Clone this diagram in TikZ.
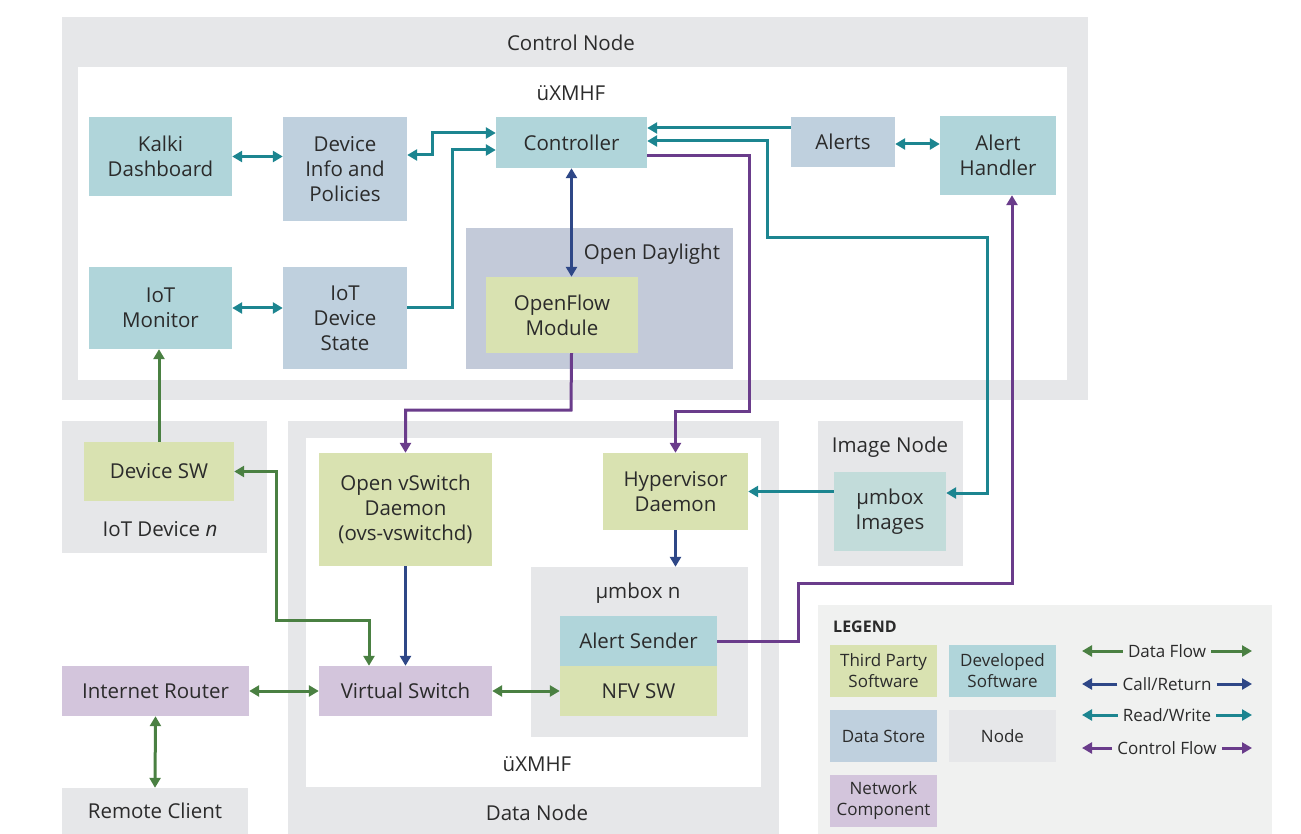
\documentclass[tikz,border=0pt]{standalone}
\usepackage{fontspec}
\setmainfont{Open Sans}
\usepackage{tikz}
\usetikzlibrary{arrows.meta,fit}
\definecolor{kkInk}{HTML}{2B2B2B}
\definecolor{kkNode}{HTML}{E6E7E9}
\definecolor{kkThird}{HTML}{D9E2B1}
\definecolor{kkDev}{HTML}{B0D5DA}
\definecolor{kkStore}{HTML}{BFD0DE}
\definecolor{kkNet}{HTML}{D3C5DC}
\definecolor{kkDaylight}{HTML}{C3CAD9}
\definecolor{kkImages}{HTML}{C2DCDA}
\definecolor{kkLegend}{HTML}{F0F1F0}
\definecolor{kkGreen}{HTML}{4A8042}
\definecolor{kkBlue}{HTML}{2E4787}
\definecolor{kkTeal}{HTML}{1C8590}
\definecolor{kkPurple}{HTML}{6A3C8B}
\tikzset{
  plain box/.style={inner sep=0pt,align=center,text=kkInk,font=\fontsize{20.5}{25}\selectfont},
  third box/.style={plain box,fill=kkThird},
  dev box/.style={plain box,fill=kkDev},
  store box/.style={plain box,fill=kkStore},
  net box/.style={plain box,fill=kkNet},
  holder/.style={fill=kkNode,inner sep=0pt},
  tag/.style={plain box},
  key box/.style={plain box,font=\fontsize{17}{21}\selectfont,minimum width=107,minimum height=52},
  key text/.style={inner sep=5pt,text=kkInk,font=\fontsize{17}{21}\selectfont},
  flow arrow/.style={line width=3pt},
  data arrow/.style={flow arrow,draw=kkGreen},
  call arrow/.style={flow arrow,draw=kkBlue},
  rw arrow/.style={flow arrow,draw=kkTeal},
  ctl arrow/.style={flow arrow,draw=kkPurple}
}
\begin{document}
\begin{tikzpicture}[x=1pt,y=-1pt,>={Triangle[length=10pt,width=11pt]}]
\useasboundingbox[fill=white] (0,0) rectangle (1301,834);
% nodes and enclosures
\node[holder,fit={(62,17)(1088,400)}] (ctrlnode) {};
\node[fill=white,inner sep=0pt,fit={(78,67)(1067,380)}] (ctrlxmhf) {};
\node[fill=kkDaylight,inner sep=0pt,fit={(466,228)(733,369)}] (daylight) {};
\node[holder,fit={(62,421)(267,553)}] (iotdev) {};
\node[holder,fit={(288,421)(779,834)}] (datanode) {};
\node[fill=white,inner sep=0pt,fit={(306,438)(761,787)}] (dataxmhf) {};
\node[holder,fit={(531,567)(748,737)}] (umbox) {};
\node[holder,fit={(818,421)(963,566)}] (imgnode) {};
\node[fill=kkLegend,inner sep=0pt,fit={(818,605)(1272,834)}] (legend) {};
\node[tag] at (571,43) {Control Node};
\node[tag] at (571,93) {üXMHF};
\node[tag] at (652,254) {Open Daylight};
\node[tag] at (160,529) {IoT Device \textit{n}};
\node[tag] at (537,813) {Data Node};
\node[tag] at (537,764) {üXMHF};
\node[tag] at (638,593) {µmbox n};
\node[tag] at (890,447) {Image Node};

% control node
\node[dev box,minimum width=143,minimum height=79] (kalki) at (160.5,156.5) {Kalki\\Dashboard};
\node[store box,minimum width=124,minimum height=104] (devinfo) at (345,169) {Device\\Info and\\Policies};
\node[dev box,minimum width=151,minimum height=51] (ctrl) at (571.5,142.5) {Controller};
\node[store box,minimum width=104,minimum height=50] (alerts) at (843,142) {Alerts};
\node[dev box,minimum width=116,minimum height=79] (handler) at (998,155.5) {Alert\\Handler};
\node[dev box,minimum width=143,minimum height=82] (iotmon) at (160.5,308) {IoT\\Monitor};
\node[store box,minimum width=124,minimum height=102] (state) at (345,318) {IoT\\Device\\State};
\node[third box,minimum width=152,minimum height=76] (openflow) at (562,315) {OpenFlow\\Module};

% devices, data node, image node
\node[third box,minimum width=150,minimum height=59] (devsw) at (159,471.5) {Device SW};
\node[third box,minimum width=173,minimum height=113] (ovs) at (405.5,509.5) {Open vSwitch\\Daemon\\(ovs-vswitchd)};
\node[third box,minimum width=145,minimum height=77] (hyper) at (675.5,491.5) {Hypervisor\\Daemon};
\node[dev box,minimum width=157,minimum height=50] (sender) at (638.5,641) {Alert Sender};
\node[third box,minimum width=157,minimum height=50] (nfv) at (638.5,691) {NFV SW};
\node[net box,minimum width=173,minimum height=50] (vswitch) at (405.5,691) {Virtual Switch};
\node[net box,minimum width=187,minimum height=50] (router) at (155.5,691) {Internet Router};
\node[plain box,fill=kkNode,minimum width=186,minimum height=46] (client) at (155,811) {Remote Client};
\node[plain box,fill=kkImages,minimum width=112,minimum height=79] (images) at (890,511.5) {µmbox\\Images};

% connectors
\draw[rw arrow,<->] (kalki.east) -- (kalki.east -| devinfo.west);
\draw[rw arrow,<->] ([yshift=14pt]devinfo.east) -| (432,133) -- ([yshift=9.5pt]ctrl.west);
\draw[rw arrow,->] (state.east |- iotmon) -| (452,150) -- ([yshift=-7.5pt]ctrl.west);
\draw[rw arrow,<->] (iotmon.east) -- (iotmon.east -| state.west);
\draw[rw arrow,->] ([yshift=14pt]alerts.west) -- ([yshift=14pt]alerts.west -| ctrl.east);
\draw[rw arrow,<->] ([yshift=1.5pt]ctrl.east) -| (767,238) -| (987,493) -- ([yshift=18.5pt]images.east);
\draw[rw arrow,<->] ([yshift=-2pt]alerts.east) -- ([yshift=-2pt]alerts.east -| handler.west);
\draw[rw arrow,->] (images.west |- hyper) -- (hyper.east);
\draw[call arrow,<->] (ctrl.south) -- (ctrl.south |- openflow.north);
\draw[call arrow,->] (hyper.south) -- (hyper.south |- umbox.north);
\draw[call arrow,->] (ovs.south) -- (vswitch.north);
\draw[ctl arrow,->] ([yshift=-13.5pt]ctrl.east) -| (749,411) -| (hyper.north);
\draw[ctl arrow,->] (ctrl.south |- openflow.south) -- (571,410) -| (ovs.north);
\draw[ctl arrow,->] (sender.east) -| (798,583) -| ([xshift=14pt]handler.south);
\draw[data arrow,->] (devsw.north) -- (devsw.north |- iotmon.south);
\draw[data arrow,<->] (devsw.east) -| (276,620) -| ([xshift=-36.5pt]vswitch.north);
\draw[data arrow,<->] (router.east) -- (vswitch.west);
\draw[data arrow,<->] (vswitch.east) -- (nfv.west);
\draw[data arrow,<->] (router.south) -- (client.north);

% legend
\node[anchor=west,inner sep=0pt,text=kkInk,font=\fontsize{16}{20}\selectfont\bfseries] at (833,627) {LEGEND};
\node[key box,fill=kkThird] (keythird) at (883.5,671) {Third Party\\Software};
\node[key box,fill=kkDev] (keydev) at (1002.5,671) {Developed\\Software};
\node[key box,fill=kkStore] (keystore) at (883.5,736) {Data Store};
\node[key box,fill=kkNode] (keynode) at (1002.5,736) {Node};
\node[key box,fill=kkNet] (keynet) at (883.5,801) {Network\\Component};
\coordinate (keyL) at (1082,0);
\coordinate (keyR) at (1252,0);
\node[key text] (keydata) at (1167,651) {Data Flow};
\node[key text] (keycall) at (1167,684) {Call/Return};
\node[key text] (keyrw) at (1167,715) {Read/Write};
\node[key text] (keyctl) at (1167,748) {Control Flow};
\draw[data arrow,->] (keydata.west) -- (keydata.west -| keyL);
\draw[data arrow,->] (keydata.east) -- (keydata.east -| keyR);
\draw[call arrow,->] (keycall.west) -- (keycall.west -| keyL);
\draw[call arrow,->] (keycall.east) -- (keycall.east -| keyR);
\draw[rw arrow,->] (keyrw.west) -- (keyrw.west -| keyL);
\draw[rw arrow,->] (keyrw.east) -- (keyrw.east -| keyR);
\draw[ctl arrow,->] (keyctl.west) -- (keyctl.west -| keyL);
\draw[ctl arrow,->] (keyctl.east) -- (keyctl.east -| keyR);
\end{tikzpicture}
\end{document}
